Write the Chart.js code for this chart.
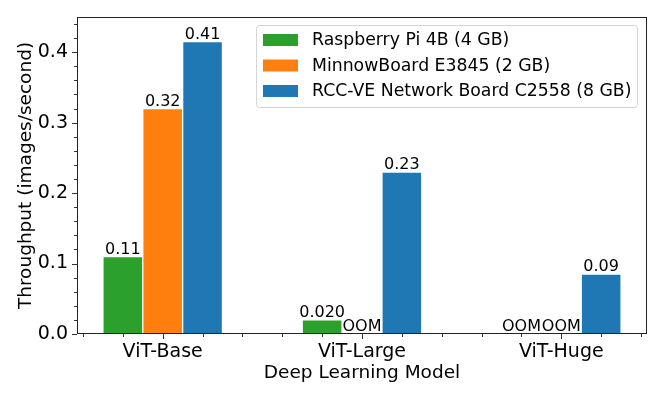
<!DOCTYPE html>
<html>
<head>
<meta charset="utf-8">
<script src="https://cdn.jsdelivr.net/npm/chart.js@4/dist/chart.umd.min.js"></script>
<style>
  html, body { margin: 0; padding: 0; background: #fff; }
  #wrap { width: 664px; height: 399px; }
</style>
</head>
<body>
<div id="wrap"><canvas id="c" width="664" height="399"></canvas></div>
<script>
// ---- data ----
const categories = ['ViT-Base', 'ViT-Large', 'ViT-Huge'];
const seriesNames = ['Raspberry Pi 4B (4 GB)', 'MinnowBoard E3845 (2 GB)', 'RCC-VE Network Board C2558 (8 GB)'];
const rpiValues = [0.11, 0.02, null];
const minnowValues = [0.32, null, null];
const rccValues = [0.415, 0.23, 0.085];
const rpiLabels = ['0.11', '0.020', 'OOM'];
const minnowLabels = ['0.32', 'OOM', 'OOM'];
const rccLabels = ['0.41', '0.23', '0.09'];
const yTicks = [0.0, 0.1, 0.2, 0.3, 0.4];
const seriesColors = ['#2ca02c', '#ff7f0e', '#1f77b4'];

const FONT = 'DejaVu Sans';
const groupOffsets = [-0.2, 0, 0.2];
const allValues = [rpiValues, minnowValues, rccValues];
const allLabels = [rpiLabels, minnowLabels, rccLabels];

const datasets = allValues.map((vals, s) => ({
  label: seriesNames[s],
  data: vals.map((v, i) => ({ x: i + groupOffsets[s], y: v })),
  backgroundColor: seriesColors[s],
  borderColor: 'rgba(255,255,255,0.4)',
  borderWidth: 1,
  borderSkipped: 'bottom',
  grouped: false,
  barPercentage: 1,
  categoryPercentage: 1
}));

const decorPlugin = {
  id: 'decor',
  afterDatasetsDraw(chart) {
    const ctx = chart.ctx;
    const xs = chart.scales.x, ys = chart.scales.y;
    ctx.save();
    ctx.fillStyle = '#000';
    ctx.font = '16px "' + FONT + '"';
    ctx.textAlign = 'center';
    ctx.textBaseline = 'alphabetic';
    allLabels.forEach((labs, s) => {
      labs.forEach((t, i) => {
        const v = allValues[s][i];
        const px = xs.getPixelForValue(i + groupOffsets[s]);
        const py = ys.getPixelForValue(v == null ? 0 : v);
        ctx.fillText(t, px, py - 3);
      });
    });
    ctx.restore();
  },
  afterDraw(chart) {
    const ctx = chart.ctx;
    const a = chart.chartArea;
    const xs = chart.scales.x, ys = chart.scales.y;
    ctx.save();
    ctx.strokeStyle = '#222';
    ctx.lineWidth = 1;
    ctx.strokeRect(Math.round(a.left) + 0.5, Math.round(a.top) + 0.5,
                   Math.round(a.right - a.left) - 1, Math.round(a.bottom - a.top) - 1);
    ctx.strokeStyle = '#333';
    for (let k = 0; k <= 22; k++) {
      const v = k * 0.02;
      const major = k % 5 === 0;
      const py = Math.round(ys.getPixelForValue(v)) + 0.5;
      const len = major ? 5 : 3;
      ctx.beginPath();
      ctx.moveTo(a.left, py);
      ctx.lineTo(a.left - len, py);
      ctx.stroke();
    }
    for (let k = -2; k <= 12; k++) {
      const v = k * 0.2;
      const major = k % 5 === 0;
      const px = Math.round(xs.getPixelForValue(v)) + 0.5;
      const len = major ? 5 : 3;
      ctx.beginPath();
      ctx.moveTo(px, a.bottom);
      ctx.lineTo(px, a.bottom + len);
      ctx.stroke();
    }
    const lx = 256.5, ly = 25.5, lw = 381, lh = 82, r = 3;
    ctx.fillStyle = 'rgba(255,255,255,0.8)';
    ctx.strokeStyle = '#d5d5d5';
    ctx.beginPath();
    ctx.moveTo(lx + r, ly);
    ctx.lineTo(lx + lw - r, ly);
    ctx.arcTo(lx + lw, ly, lx + lw, ly + r, r);
    ctx.lineTo(lx + lw, ly + lh - r);
    ctx.arcTo(lx + lw, ly + lh, lx + lw - r, ly + lh, r);
    ctx.lineTo(lx + r, ly + lh);
    ctx.arcTo(lx, ly + lh, lx, ly + lh - r, r);
    ctx.lineTo(lx, ly + r);
    ctx.arcTo(lx, ly, lx + r, ly, r);
    ctx.closePath();
    ctx.fill();
    ctx.stroke();
    ctx.font = '17.3px "' + FONT + '"';
    ctx.textAlign = 'left';
    ctx.textBaseline = 'middle';
    chart.data.datasets.forEach((d, s) => {
      const cy = 40 + s * 25.5;
      ctx.fillStyle = d.backgroundColor;
      ctx.fillRect(263, cy - 6, 35, 12);
      ctx.fillStyle = '#000';
      ctx.fillText(d.label, 312, cy + 1);
    });
    ctx.restore();
  }
};

new Chart(document.getElementById('c'), {
  type: 'bar',
  data: { datasets },
  options: {
    responsive: false,
    animation: false,
    devicePixelRatio: 1,
    layout: { padding: { left: 0, top: 17, right: 17, bottom: 0 } },
    plugins: { legend: { display: false }, tooltip: { enabled: false } },
    scales: {
      x: {
        type: 'linear',
        min: -0.43,
        max: 2.43,
        offset: false,
        afterBuildTicks: (sc) => { sc.ticks = categories.map((c, i) => ({ value: i })); },
        afterFit: (sc) => { sc.height = 65; },
        ticks: {
          callback: (v, i) => categories[i],
          color: '#000',
          font: { family: FONT, size: 19 },
          padding: 2,
          maxRotation: 0,
          autoSkip: false
        },
        grid: { drawOnChartArea: false, color: 'transparent', tickLength: 5, offset: false },
        border: { display: false },
        title: {
          display: true,
          text: 'Deep Learning Model',
          color: '#000',
          font: { family: FONT, size: 18.5 },
          padding: { top: 0, bottom: 15 }
        }
      },
      y: {
        min: 0,
        max: 0.45,
        afterBuildTicks: (sc) => { sc.ticks = yTicks.map(v => ({ value: v })); },
        afterFit: (sc) => { sc.width = 77; },
        ticks: {
          callback: (v) => Number(v).toFixed(1),
          color: '#000',
          font: { family: FONT, size: 19 },
          padding: 4
        },
        grid: { drawOnChartArea: false, color: 'transparent', tickLength: 5 },
        border: { display: false },
        title: {
          display: true,
          text: 'Throughput (images/second)',
          color: '#000',
          font: { family: FONT, size: 18.5 },
          padding: { top: 15, bottom: 0 }
        }
      }
    }
  },
  plugins: [decorPlugin]
});
</script>
</body>
</html>
